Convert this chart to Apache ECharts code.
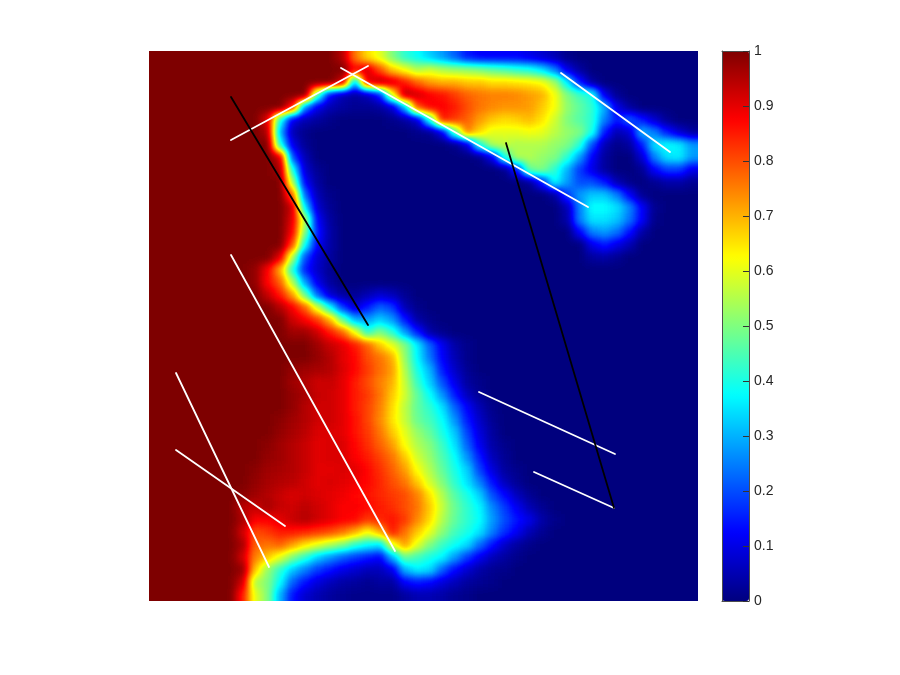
<!DOCTYPE html>
<html><head><meta charset="utf-8">
<style>
html,body{margin:0;padding:0;background:#fff}
#field,#c{position:absolute;left:0;top:0;width:900px;height:675px}
/* The field chart paints each value as a gray level; blur + table transfer re-create MATLAB's interpolated shading with the jet map. */
#field{filter:blur(4px) url(#jetMap);clip-path:inset(51px 202px 74px 149px)}
</style>
<script src="https://cdn.jsdelivr.net/npm/echarts@6/dist/echarts.min.js"></script>
</head><body>
<svg width="0" height="0" style="position:absolute"><filter id="jetMap" color-interpolation-filters="sRGB" x="0" y="0" width="100%" height="100%">
<feComponentTransfer>
<feFuncR type="table" tableValues="0 0 0 0 .498 1 1 1 .498"/>
<feFuncG type="table" tableValues="0 0 .498 1 1 1 .498 0 0"/>
<feFuncB type="table" tableValues=".498 1 1 1 .498 0 0 0 0"/>
</feComponentTransfer></filter></svg>
<div id="field"></div><div id="c"></div>
<script>
// field values in percent, rows top to bottom, 4 groups of 11 columns
const heatRows = [
[100,100,100,100,100,100,100,100,100,100,100, 100,100,100,100,95,76,66,60,50,42,38, 33,28,22,15,12,12,12,12,10,8,5, 1,0,0,0,0,0,0,0,0,0,0],
[100,100,100,100,100,100,100,100,100,100,100, 100,100,100,100,100,88,92,80,68,62,55, 58,55,53,52,50,47,45,42,40,35,25, 10,3,0,0,0,0,0,0,0,0,0],
[100,100,100,100,100,100,100,100,100,100,100, 100,100,100,100,92,30,90,95,92,85,78, 72,70,70,68,68,66,66,65,64,62,54, 36,15,3,0,0,0,0,0,0,0,0],
[100,100,100,100,100,100,100,100,100,100,100, 100,100,45,12,5,3,6,15,60,95,92, 88,86,82,78,76,75,75,74,72,70,62, 50,44,40,10,2,0,0,0,0,0,0],
[100,100,100,100,100,100,100,100,100,100,100, 85,25,10,5,3,2,2,3,8,30,80, 88,88,85,80,76,74,73,73,72,68,62, 52,47,42,30,10,3,0,0,0,0,0],
[100,100,100,100,100,100,100,100,100,90,40, 10,5,3,1,0,0,0,0,1,3,8, 40,85,82,78,72,68,66,67,69,65,58, 50,46,42,25,15,22,15,8,2,0,0],
[100,100,100,100,100,100,100,100,100,95,30, 5,1,0,0,0,0,0,0,0,0,1, 2,10,45,75,66,60,60,60,61,60,56, 52,50,40,15,5,8,30,25,15,8,3],
[100,100,100,100,100,100,100,100,100,100,40, 10,2,0,0,0,0,0,0,0,0,0, 0,0,1,8,40,55,56,55,55,55,52, 50,42,20,5,1,3,15,35,38,36,28],
[100,100,100,100,100,100,100,100,100,100,92, 20,5,0,0,0,0,0,0,0,0,0, 0,0,0,0,1,10,40,55,55,52,50, 42,28,12,3,0,0,8,25,35,36,28],
[100,100,100,100,100,100,100,100,100,100,97, 40,8,2,0,0,0,0,0,0,0,0, 0,0,0,0,0,0,1,15,48,50,42, 30,18,10,3,0,0,2,12,18,18,10],
[100,100,100,100,100,100,100,100,100,100,100, 55,12,3,0,0,0,0,0,0,0,0, 0,0,0,0,0,0,0,0,2,15,38, 28,20,20,15,5,1,0,2,4,4,2],
[100,100,100,100,100,100,100,100,100,100,100, 78,22,5,1,0,0,0,0,0,0,0, 0,0,0,0,0,0,0,0,0,0,3, 18,28,32,32,25,12,2,0,0,0,0],
[100,100,100,100,100,100,100,100,100,100,100, 92,35,8,2,0,0,0,0,0,0,0, 0,0,0,0,0,0,0,0,0,0,0, 5,25,38,38,35,26,12,2,0,0,0],
[100,100,100,100,100,100,100,100,100,100,100, 90,55,12,3,0,0,0,0,0,0,0, 0,0,0,0,0,0,0,0,0,0,0, 4,25,35,35,32,24,12,1,0,0,0],
[100,100,100,100,100,100,100,100,100,100,100, 88,50,15,4,0,0,0,0,0,0,0, 0,0,0,0,0,0,0,0,0,0,0, 0,12,25,28,24,14,4,0,0,0,0],
[100,100,100,100,100,100,100,100,100,100,100, 80,38,12,4,0,0,0,0,0,0,0, 0,0,0,0,0,0,0,0,0,0,0, 0,0,10,15,10,5,0,0,0,0,0],
[100,100,100,100,100,100,100,100,100,100,90, 55,20,8,3,0,0,0,0,0,0,0, 0,0,0,0,0,0,0,0,0,0,0, 0,0,3,4,2,0,0,0,0,0,0],
[100,100,100,100,100,100,100,100,98,88,70, 40,15,7,2,0,0,0,0,0,0,0, 0,0,0,0,0,0,0,0,0,0,0, 0,0,0,0,0,0,0,0,0,0,0],
[100,100,100,100,100,100,100,100,98,87,78, 55,28,10,3,0,0,0,0,0,0,0, 0,0,0,0,0,0,0,0,0,0,0, 0,0,0,0,0,0,0,0,0,0,0],
[100,100,100,100,100,100,100,100,100,93,85, 72,48,22,8,3,2,5,8,6,2,0, 0,0,0,0,0,0,0,0,0,0,0, 0,0,0,0,0,0,0,0,0,0,0],
[100,100,100,100,100,100,100,100,100,100,95, 88,78,58,38,18,8,15,22,18,5,1, 0,0,0,0,0,0,0,0,0,0,0, 0,0,0,0,0,0,0,0,0,0,0],
[100,100,100,100,100,100,100,100,100,100,100, 92,88,82,70,48,30,28,33,28,15,4, 1,0,0,0,0,0,0,0,0,0,0, 0,0,0,0,0,0,0,0,0,0,0],
[100,100,100,100,100,100,100,100,100,100,100, 97,97,92,85,78,62,42,50,42,28,15, 4,1,0,0,0,0,0,0,0,0,0, 0,0,0,0,0,0,0,0,0,0,0],
[100,100,100,100,100,100,100,100,100,100,100, 100,100,97,93,90,85,78,68,60,50,36, 22,11,4,1,0,0,0,0,0,0,0, 0,0,0,0,0,0,0,0,0,0,0],
[100,100,100,100,100,100,100,100,100,100,100, 100,100,98,95,90,87,80,76,70,52,37, 24,12,5,1,0,0,0,0,0,0,0, 0,0,0,0,0,0,0,0,0,0,0],
[100,100,100,100,100,100,100,100,100,100,100, 98,97,96,95,91,87,82,77,72,55,40, 30,15,7,2,0,0,0,0,0,0,0, 0,0,0,0,0,0,0,0,0,0,0],
[100,100,100,100,100,100,100,100,100,100,100, 97,95,92,93,90,85,80,75,70,57,43, 33,20,10,3,1,0,0,0,0,0,0, 0,0,0,0,0,0,0,0,0,0,0],
[100,100,100,100,100,100,100,100,100,100,100, 98,96,93,92,90,85,82,76,68,58,47, 38,27,15,6,2,0,0,0,0,0,0, 0,0,0,0,0,0,0,0,0,0,0],
[100,100,100,100,100,100,100,100,100,100,100, 98,95,92,92,90,85,81,75,66,56,47, 42,35,22,12,5,1,0,0,0,0,0, 0,0,0,0,0,0,0,0,0,0,0],
[100,100,100,100,100,100,100,100,100,100,99, 97,95,92,92,90,86,81,74,65,57,48, 44,38,27,15,7,2,0,0,0,0,0, 0,0,0,0,0,0,0,0,0,0,0],
[100,100,100,100,100,100,100,100,100,100,98, 96,94,91,91,90,86,82,76,68,60,52, 47,40,32,19,9,3,0,0,0,0,0, 0,0,0,0,0,0,0,0,0,0,0],
[100,100,100,100,100,100,100,100,100,99,97, 95,93,90,91,91,87,83,78,72,62,55, 50,43,35,22,11,4,1,0,0,0,0, 0,0,0,0,0,0,0,0,0,0,0],
[100,100,100,100,100,100,100,100,100,98,97, 95,93,90,91,91,88,85,81,76,68,58, 52,45,38,27,15,6,2,0,0,0,0, 0,0,0,0,0,0,0,0,0,0,0],
[100,100,100,100,100,100,100,100,99,97,96, 95,93,90,90,91,90,87,83,78,72,62, 55,47,40,33,19,9,3,1,0,0,0, 0,0,0,0,0,0,0,0,0,0,0],
[100,100,100,100,100,100,100,100,98,96,95, 94,92,90,91,90,89,87,84,80,76,68, 58,50,42,35,25,14,6,2,0,0,0, 0,0,0,0,0,0,0,0,0,0,0],
[100,100,100,100,100,100,100,99,97,95,93, 91,92,91,90,89,87,86,84,82,80,75, 65,55,46,40,33,20,13,6,2,0,0, 0,0,0,0,0,0,0,0,0,0,0],
[100,100,100,100,100,100,100,94,93,96,93, 92,94,92,90,88,88,87,85,83,80,76, 68,57,48,42,37,26,18,11,5,2,0, 0,0,0,0,0,0,0,0,0,0,0],
[100,100,100,100,100,100,100,96,88,88,90, 93,95,92,90,88,87,82,84,86,82,74, 66,55,47,42,38,28,20,14,10,4,1, 0,0,0,0,0,0,0,0,0,0,0],
[100,100,100,100,100,100,100,92,80,82,85, 85,84,82,80,76,70,62,70,85,76,68, 60,51,44,40,35,25,17,11,5,2,0, 0,0,0,0,0,0,0,0,0,0,0],
[100,100,100,100,100,100,100,96,78,76,78, 72,65,60,55,50,42,38,35,60,72,60, 50,43,39,34,23,14,7,3,1,0,0, 0,0,0,0,0,0,0,0,0,0,0],
[100,100,100,100,100,100,100,92,75,68,60, 50,42,33,27,22,18,15,12,30,48,44, 40,37,28,18,11,6,3,1,0,0,0, 0,0,0,0,0,0,0,0,0,0,0],
[100,100,100,100,100,100,100,98,68,52,42, 32,25,18,14,10,8,6,6,10,30,36, 34,22,13,8,4,2,1,0,0,0,0, 0,0,0,0,0,0,0,0,0,0,0],
[100,100,100,100,100,100,100,92,55,50,38, 22,14,9,6,4,3,2,3,3,12,15, 13,9,6,3,2,1,0,0,0,0,0, 0,0,0,0,0,0,0,0,0,0,0],
[100,100,100,100,100,100,100,85,60,50,30, 14,8,5,3,2,1,1,1,1,3,5, 5,4,2,1,0,0,0,0,0,0,0, 0,0,0,0,0,0,0,0,0,0,0]
];
// segments in field units (x from the left edge, y from the bottom edge)
const whiteSegments = [
  [[82,461],[219,535]], [[192,533],[439,394]], [[412,528],[521,449]], [[82,346],[246,50]],
  [[27,228],[120,34]], [[27,151],[136,75]], [[330,209],[466,147]], [[385,129],[465,93]]
];
const blackSegments = [ [[82,504],[219,276]], [[357,458],[465,93]] ];
const jetColors = ['#00007F','#0000FF','#007FFF','#00FFFF','#7FFF7F','#FFFF00','#FF7F00','#FF0000','#7F0000'];

const nCols = heatRows[0].length, nRows = heatRows.length;
const cols = heatRows[0].map((_, i) => i);
const rows = heatRows.map((_, j) => j);
const cells = [];
heatRows.forEach((r, j) => r.forEach((v, i) => cells.push([i, j, v / 100])));

// Field chart: value -> gray level through visualMap; cells overlap slightly, and border cells run past the clip so the blur has no fade at the frame.
const fieldChart = echarts.init(document.getElementById('field'), null, { renderer: 'canvas' });
fieldChart.setOption({
  animation: false,
  grid: { left: 149, top: 51, width: 549, height: 550 },
  xAxis: { type: 'category', data: cols, show: false },
  yAxis: { type: 'category', data: rows, inverse: true, show: false },
  visualMap: { type: 'continuous', min: 0, max: 1, show: false, seriesIndex: 0, inRange: { color: ['#000000', '#ffffff'] } },
  series: [{
    type: 'custom', data: cells, silent: true, clip: false, animation: false,
    encode: { x: 0, y: 1 },
    renderItem: (params, api) => {
      const i = api.value(0), j = api.value(1);
      const p = api.coord([i, j]), s = api.size([1, 1]);
      const out = 24;
      const x0 = p[0] - s[0] / 2 - (i === 0 ? out : 0), x1 = p[0] + s[0] / 2 + (i === nCols - 1 ? out : 1);
      const y0 = p[1] - s[1] / 2 - (j === 0 ? out : 0), y1 = p[1] + s[1] / 2 + (j === nRows - 1 ? out : 1);
      return { type: 'rect', shape: { x: x0, y: y0, width: x1 - x0, height: y1 - y0 }, style: { fill: api.visual('color') } };
    }
  }]
});

// Top chart: segments and colour bar.
const seg = (s, color) => ({
  type: 'line', data: s, symbol: 'none', silent: true, z: 5, xAxisIndex: 0, yAxisIndex: 0,
  lineStyle: { color, width: 1.8, cap: 'round' }, animation: false
});
const frame = '#4d4d4d';
const frameAxis = { onZero: false, lineStyle: { color: frame, width: 1 } };
const chart = echarts.init(document.getElementById('c'), null, { renderer: 'canvas' });
chart.setOption({
  animation: false,
  grid: [
    { left: 149, top: 51, width: 549, height: 550 },
    { left: 722, top: 51, width: 27, height: 550 }
  ],
  xAxis: [
    { type: 'value', gridIndex: 0, min: 0, max: 549, show: false },
    { type: 'value', gridIndex: 1, min: 0, max: 1, position: 'bottom', z: 10, axisLine: frameAxis, axisTick: { show: false }, axisLabel: { show: false }, splitLine: { show: false } },
    { type: 'value', gridIndex: 1, min: 0, max: 1, position: 'top', z: 10, axisLine: frameAxis, axisTick: { show: false }, axisLabel: { show: false }, splitLine: { show: false } }
  ],
  yAxis: [
    { type: 'value', gridIndex: 0, min: 0, max: 550, show: false },
    { type: 'value', gridIndex: 1, min: 0, max: 1, interval: 0.1, position: 'right', z: 10,
      axisLine: frameAxis,
      axisTick: { inside: true, length: 6, lineStyle: { color: '#333', width: 1 } },
      axisLabel: { margin: 5, fontFamily: 'Liberation Sans', fontSize: 14, color: '#262626', formatter: v => String(+v.toFixed(1)) },
      splitLine: { show: false } },
    { type: 'value', gridIndex: 1, min: 0, max: 1, position: 'left', z: 10, axisLine: frameAxis, axisTick: { show: false }, axisLabel: { show: false }, splitLine: { show: false } }
  ],
  visualMap: {
    type: 'continuous', min: 0, max: 1, seriesIndex: [], show: true, calculable: false, hoverLink: false,
    left: 722, top: 51, itemWidth: 27, itemHeight: 550, padding: 0, text: null, orient: 'vertical',
    inRange: { color: jetColors }
  },
  series: whiteSegments.map(s => seg(s, '#ffffff')).concat(blackSegments.map(s => seg(s, '#000000')))
});
</script></body></html>
